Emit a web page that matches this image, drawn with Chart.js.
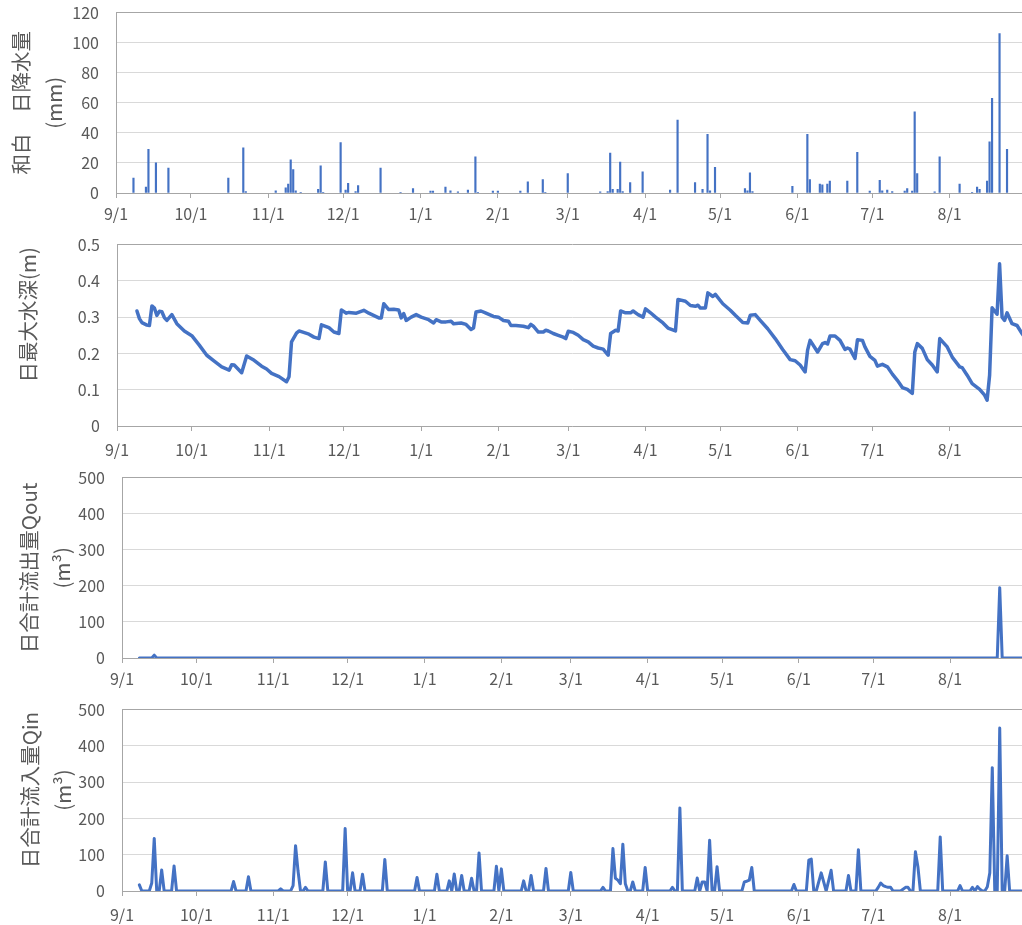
<!DOCTYPE html>
<html lang="ja">
<head>
<meta charset="utf-8">
<title>和白 日降水量・水深・流出入量</title>
<script src="https://cdn.jsdelivr.net/npm/chart.js"></script>
<style>
  html, body { margin: 0; padding: 0; background: #fff; overflow: hidden; }
  body { width: 1022px; height: 925px; position: relative; }
  canvas { position: absolute; left: 0; }
</style>
</head>
<body>
<canvas id="chartRain" width="1027" height="244" style="top:-14px"></canvas>
<canvas id="chartDepth" width="1027" height="244" style="top:218px"></canvas>
<canvas id="chartQout" width="1027" height="244" style="top:451px"></canvas>
<canvas id="chartQin" width="1027" height="242" style="top:683px"></canvas>
<script>
// x軸は 9/1 からの日数
const monthLabels = ['9/1', '10/1', '11/1', '12/1', '1/1', '2/1', '3/1', '4/1', '5/1', '6/1', '7/1', '8/1'];
const monthDays = [0, 30, 61, 91, 122, 153, 181, 212, 242, 273, 303, 334];

// 和白 日降水量 (mm)  雨の日だけ
const rainDay = [7, 12, 13, 16, 21, 45, 51, 52, 64, 68, 69, 70, 71, 72, 74, 81, 82, 83, 90, 92, 93, 96, 97,
  106, 114, 119, 126, 127, 132, 134, 137, 141, 144, 145, 151, 153, 162, 165, 171, 172, 181, 194, 197, 198,
  199, 201, 202, 203, 206, 211, 222, 225, 232, 235, 237, 238, 240, 252, 253, 254, 255, 271, 277, 278, 282,
  283, 285, 286, 293, 297, 302, 306, 307, 309, 311, 316, 317, 319, 320, 321, 328, 330, 338, 343, 345, 346,
  349, 350, 351, 354, 357];
const rainMm = [10, 4, 29, 20, 16.5, 10, 30, 1, 1.5, 3.5, 6, 22, 15.5, 1.5, 0.5, 2.5, 18, 0.5, 33.5, 2, 6.5, 1, 5,
  16.5, 0.5, 3, 1.2, 1.3, 4, 1.5, 0.7, 2, 24, 0.5, 1.2, 1.2, 1.2, 7.5, 9, 0.5, 13, 0.7, 1, 26.5,
  2.5, 2.5, 20.5, 1, 7, 14, 2, 48.5, 7, 2.5, 39, 1.5, 17, 3, 1.5, 13.5, 1, 4.5, 39, 9, 6,
  5.5, 6, 8, 8, 27, 1.2, 8.5, 1.5, 2, 1, 1.2, 3, 1.3, 54, 13, 0.7, 24, 6, 0.5, 4, 2.5,
  8, 34, 63, 106, 29];

// 日最大水深 (m)  折れ点の日と値
const depthDay = [8, 9, 10, 12, 13, 14, 15, 16, 17, 18, 19, 20, 22, 24, 27, 30, 33, 36, 39, 42, 45, 46, 47, 50,
  52, 55, 58, 60, 62, 65, 68, 69, 70, 72, 73, 77, 79, 81, 82, 85, 87, 89, 90, 92, 93, 96, 99, 101, 105, 106,
  107, 109, 111, 113, 114, 115, 116, 118, 120, 122, 125, 127, 128, 130, 132, 134, 135, 138, 140, 142, 143,
  144, 146, 148, 151, 153, 155, 157, 158, 160, 163, 165, 166, 167, 169, 171, 172, 173, 175, 177, 179, 180,
  181, 183, 185, 187, 189, 191, 193, 195, 197, 198, 200, 201, 202, 204, 206, 207, 209, 211, 212, 214, 216,
  219, 221, 224, 225, 228, 230, 232, 233, 234, 236, 237, 239, 240, 243, 246, 248, 251, 253, 254, 256, 258,
  261, 264, 267, 270, 272, 274, 276, 277, 278, 281, 283, 284, 285, 286, 288, 290, 292, 293, 294, 296, 297,
  299, 300, 302, 304, 305, 307, 309, 311, 313, 315, 317, 319, 320, 321, 323, 325, 327, 329, 330, 333, 335,
  338, 339, 341, 343, 346, 348, 349, 350, 351, 353, 354, 355, 356, 357, 359, 361, 363, 364];
const depthM = [0.317, 0.296, 0.285, 0.278, 0.277, 0.331, 0.325, 0.305, 0.316, 0.315, 0.299, 0.291, 0.307, 0.282,
  0.262, 0.249, 0.223, 0.195, 0.179, 0.163, 0.154, 0.169, 0.168, 0.147, 0.193, 0.181, 0.165, 0.157, 0.145,
  0.136, 0.122, 0.136, 0.232, 0.256, 0.262, 0.253, 0.245, 0.241, 0.279, 0.271, 0.259, 0.255, 0.320, 0.311,
  0.313, 0.311, 0.319, 0.311, 0.298, 0.298, 0.337, 0.321, 0.322, 0.320, 0.298, 0.310, 0.291, 0.300, 0.307,
  0.300, 0.293, 0.284, 0.293, 0.287, 0.287, 0.289, 0.282, 0.284, 0.280, 0.266, 0.270, 0.314, 0.317, 0.311,
  0.302, 0.300, 0.291, 0.289, 0.277, 0.277, 0.275, 0.271, 0.280, 0.275, 0.259, 0.259, 0.264, 0.262, 0.255,
  0.250, 0.245, 0.241, 0.261, 0.258, 0.250, 0.238, 0.232, 0.220, 0.215, 0.212, 0.195, 0.255, 0.264, 0.262,
  0.317, 0.312, 0.312, 0.317, 0.307, 0.300, 0.323, 0.312, 0.300, 0.284, 0.270, 0.262, 0.349, 0.344, 0.332,
  0.330, 0.333, 0.325, 0.325, 0.367, 0.357, 0.363, 0.337, 0.319, 0.305, 0.285, 0.284, 0.305, 0.307, 0.291,
  0.268, 0.241, 0.211, 0.183, 0.180, 0.168, 0.149, 0.209, 0.236, 0.204, 0.227, 0.230, 0.226, 0.248, 0.248,
  0.236, 0.211, 0.215, 0.212, 0.186, 0.238, 0.236, 0.218, 0.192, 0.181, 0.165, 0.170, 0.163, 0.143, 0.126,
  0.106, 0.101, 0.090, 0.204, 0.227, 0.214, 0.183, 0.168, 0.149, 0.241, 0.218, 0.190, 0.163, 0.161, 0.140,
  0.117, 0.101, 0.085, 0.071, 0.140, 0.326, 0.308, 0.447, 0.300, 0.291, 0.312, 0.282, 0.277, 0.255, 0.245];

// 日合計流出量 Qout (m3)  折れ点
const qoutDay = [7, 12, 13, 14, 353, 354, 355, 364];
const qoutM3 = [0, 0, 8, 0, 0, 195, 0, 0];

// 日合計流入量 Qin (m3)  折れ点
const qinDay = [7, 8, 11, 12, 13, 14, 15, 16, 17, 20, 21, 22, 44, 45, 46, 50, 51, 52, 63, 64, 65, 68, 69, 70,
  71, 72, 73, 74, 75, 81, 82, 83, 89, 90, 91, 92, 93, 94, 96, 97, 98, 105, 106, 107, 118, 119, 120, 126, 127,
  128, 131, 132, 133, 134, 135, 136, 137, 138, 140, 141, 142, 143, 144, 145, 150, 151, 152, 153, 154, 161,
  162, 163, 164, 165, 166, 170, 171, 172, 180, 181, 182, 193, 194, 195, 197, 198, 199, 200, 201, 202, 203,
  204, 205, 206, 207, 210, 211, 212, 221, 222, 223, 224, 225, 226, 231, 232, 233, 234, 235, 236, 237, 238,
  239, 240, 241, 250, 251, 252, 253, 254, 255, 270, 271, 272, 276, 277, 278, 279, 280, 282, 284, 286, 287,
  292, 293, 294, 296, 297, 298, 304, 305, 306, 307, 308, 309, 310, 311, 314, 315, 316, 317, 318, 319, 320,
  321, 322, 329, 330, 331, 337, 338, 339, 342, 343, 344, 345, 346, 347, 348, 349, 350, 351, 352, 353, 354,
  355, 356, 357, 358, 364];
const qinM3 = [17, 0, 0, 22, 145, 0, 0, 58, 0, 0, 69, 0, 0, 26, 0, 0, 39, 0, 0, 6, 0, 0, 15, 125,
  55, 0, 0, 10, 0, 0, 80, 0, 0, 172, 0, 0, 50, 0, 0, 46, 0, 0, 87, 0, 0, 37, 0, 0, 46,
  0, 0, 28, 0, 47, 0, 0, 43, 0, 0, 35, 0, 0, 105, 0, 0, 68, 0, 61, 0, 0,
  28, 0, 0, 43, 0, 0, 62, 0, 0, 51, 0, 0, 10, 0, 0, 117, 35, 30, 20, 129, 20,
  0, 0, 25, 0, 0, 65, 0, 0, 10, 0, 0, 229, 0, 0, 36, 0, 25, 25, 0, 140, 0,
  0, 67, 0, 0, 25, 27, 30, 65, 0, 0, 18, 0, 0, 85, 88, 0, 0, 50, 0, 57, 0,
  0, 43, 0, 0, 114, 0, 0, 10, 22, 15, 12, 10, 10, 0, 0, 5, 10, 10, 0, 0, 108,
  67, 0, 0, 149, 0, 0, 15, 0, 0, 10, 0, 12, 5, 0, 0, 12, 50, 340, 0, 0, 449,
  0, 0, 97, 0, 0];

const blue = '#4472C4';
const gray = '#595959';
const tickFont = { family: 'Noto Sans CJK JP', size: 16 };
const titleFont = { family: 'Noto Sans CJK JP', size: 20.5, lineHeight: 1.6 };

function pts(days, vals) {
  return days.map((d, i) => ({ x: d, y: vals[i] }));
}

function xAxis(h, pad) {
  return {
    type: 'linear',
    min: 0,
    max: 365,
    offset: false,
    afterBuildTicks: s => { s.ticks = monthDays.map(v => ({ value: v })); },
    afterFit: s => { s.height = h; },
    ticks: {
      color: gray, font: tickFont, padding: pad, maxRotation: 0, autoSkip: false,
      callback: (v, i) => monthLabels[i]
    },
    grid: { offset: false, drawOnChartArea: false, drawTicks: true, tickLength: 5, color: '#a6a6a6' },
    border: { color: '#a6a6a6' }
  };
}

function yAxis(w, max, step, title, titlePad) {
  return {
    min: 0,
    max: max,
    afterFit: s => { s.width = w; },
    ticks: { stepSize: step, color: gray, font: tickFont, padding: 17 },
    grid: { drawTicks: false, color: c => (c.tick && c.tick.value === max) ? '#a6a6a6' : '#d9d9d9' },
    border: { color: '#a6a6a6' },
    title: { display: true, text: title, color: gray, font: titleFont, padding: { top: titlePad, bottom: 0 } }
  };
}

function baseOptions(x, y) {
  return {
    responsive: false,
    animation: false,
    devicePixelRatio: 1,
    layout: { padding: 0 },
    plugins: { legend: { display: false }, tooltip: { enabled: false } },
    scales: { x: x, y: y }
  };
}

function lineSet(data, width) {
  return {
    data: data,
    borderColor: blue,
    borderWidth: width,
    pointRadius: 0,
    tension: 0,
    borderJoinStyle: 'round',
    borderCapStyle: 'round'
  };
}

// 降水量 (棒)
new Chart(document.getElementById('chartRain'), {
  type: 'bar',
  data: {
    datasets: [{
      data: pts(rainDay, rainMm),
      backgroundColor: blue,
      borderWidth: 0,
      barThickness: 1.5
    }]
  },
  options: baseOptions(xAxis(37, 6), yAxis(116, 120, 20, ['和白　日降水量', '(mm)'], 5))
});

// 日最大水深
new Chart(document.getElementById('chartDepth'), {
  type: 'line',
  data: { datasets: [lineSet(pts(depthDay, depthM), 3.5)] },
  options: baseOptions(xAxis(36, 9), yAxis(117, 0.5, 0.1, '　　日最大水深(m)', 12))
});

// 流出量
new Chart(document.getElementById('chartQout'), {
  type: 'line',
  data: { datasets: [lineSet(pts(qoutDay, qoutM3), 3)] },
  options: baseOptions(xAxis(37, 6), yAxis(122, 500, 100, ['日合計流出量Qout', '(m³)'], 13))
});

// 流入量
new Chart(document.getElementById('chartQin'), {
  type: 'line',
  data: { datasets: [lineSet(pts(qinDay, qinM3), 3)] },
  options: baseOptions(xAxis(34, 9), yAxis(122, 500, 100, ['　日合計流入量Qin', '　(m³)'], 14))
});
</script>
</body>
</html>
